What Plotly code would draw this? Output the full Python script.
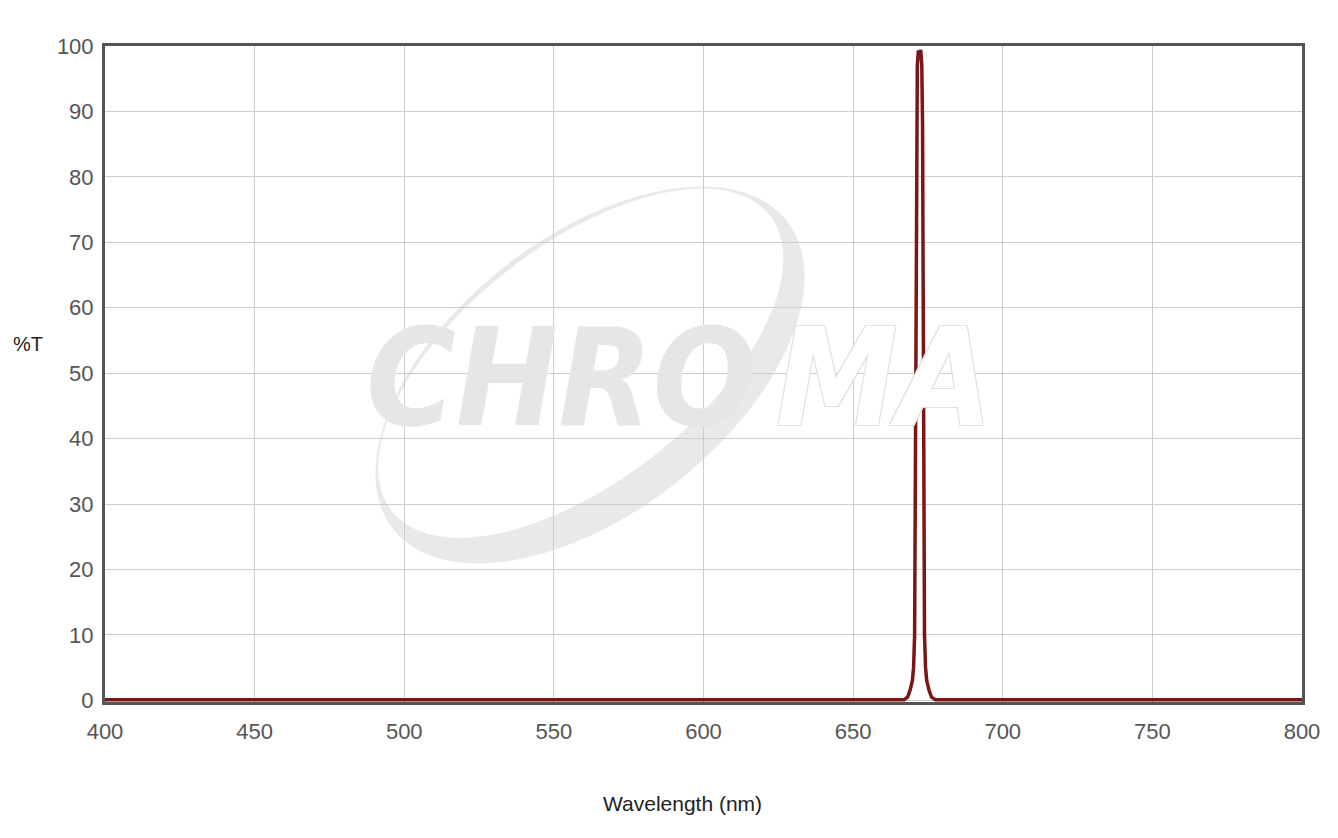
import numpy as np
import plotly.graph_objects as go

# ---- data ----
wavelength_nm = [400, 500, 600, 660, 667.0, 668.2, 669.0, 669.8, 670.2, 670.55, 670.75, 670.9,
                 671.05, 671.2, 671.45, 671.8, 672.2, 672.6, 672.95, 673.2, 673.35, 673.5,
                 673.65, 673.85, 674.2, 674.6, 675.4, 676.2, 677.5, 690, 750, 800]
transmission_pct = [0.1, 0.1, 0.1, 0.1, 0.1, 0.5, 1.5, 3.0, 5.0, 10.0, 30.0, 50.0,
                    70.0, 88.0, 97.0, 99.3, 98.8, 99.4, 97.0, 88.0, 70.0, 50.0,
                    30.0, 10.0, 5.0, 3.0, 1.5, 0.5, 0.1, 0.1, 0.1, 0.1]
x_ticks = [400, 450, 500, 550, 600, 650, 700, 750, 800]
y_ticks = [0, 10, 20, 30, 40, 50, 60, 70, 80, 90, 100]

W, H = 1338, 838
OFF = 8  # page offset of the figure in the browser
L, T = 97, 38
PW, PH = 1197, 656
R, B = W - L - PW, H - T - PH

def to_paper(px, py):
    # px, py: target screen pixel coordinates
    px, py = px - OFF, py - OFF
    return (px - L) / PW, (T + PH - py) / PH

def ellipse_path(cx, cy, a, b, ang_deg, reverse=False, n=120):
    t = np.linspace(0, 2 * np.pi, n, endpoint=False)
    if reverse:
        t = t[::-1]
    ang = np.deg2rad(ang_deg)
    u, v = a * np.cos(t), b * np.sin(t)
    px = cx + u * np.cos(ang) - v * np.sin(ang)
    py = cy + u * np.sin(ang) + v * np.cos(ang)
    pts = [to_paper(x, y) for x, y in zip(px, py)]
    return "M %.5f,%.5f " % pts[0] + " ".join("L %.5f,%.5f" % p for p in pts[1:]) + " Z"

# watermark swoosh (outer minus inner ellipse)
ang = -38
cx, cy = 590, 375
vx, vy = -np.sin(np.deg2rad(ang)), np.cos(np.deg2rad(ang))
outer = ellipse_path(cx, cy, 250, 138, ang)
inner = ellipse_path(cx - 15 * vx, cy - 15 * vy, 240, 118, ang, reverse=True)

fig = go.Figure()
fig.add_trace(go.Scatter(
    x=wavelength_nm, y=transmission_pct, mode="lines",
    line=dict(color="#7b1616", width=3.5), hoverinfo="skip", showlegend=False,
))

fig.add_shape(type="path", path=outer + " " + inner, xref="paper", yref="paper",
              fillcolor="#e9e9e9", line=dict(width=0), layer="below")

wm_family = "Liberation Sans Narrow, DejaVu Sans Condensed, Liberation Sans"
xc, yc = to_paper(758, 378)
fig.add_annotation(x=xc, y=yc, xref="paper", yref="paper", text="CHRO",
                   showarrow=False, xanchor="right", yanchor="middle",
                   font=dict(family=wm_family, size=136, color="#e6e6e6",
                             weight="bold", style="italic"))
xm, ym = to_paper(774, 378)
fig.add_annotation(x=xm, y=ym, xref="paper", yref="paper", text="MA",
                   showarrow=False, xanchor="left", yanchor="middle",
                   font=dict(family=wm_family, size=136, color="#ffffff",
                             weight="bold", style="italic",
                             shadow="1px 1px 0 #e0e0e0, -1px -1px 0 #e0e0e0, 1px -1px 0 #e0e0e0, -1px 1px 0 #e0e0e0"))

# axis titles
tx, ty = to_paper(28, 344)
fig.add_annotation(x=tx, y=ty, xref="paper", yref="paper", text="%T",
                   showarrow=False, xanchor="center", yanchor="middle",
                   font=dict(family="Liberation Sans", size=20, color="#222222"))
wx, wy = to_paper(682, 803)
fig.add_annotation(x=wx, y=wy, xref="paper", yref="paper", text="Wavelength (nm)",
                   showarrow=False, xanchor="center", yanchor="middle",
                   font=dict(family="Liberation Sans", size=21, color="#222222"))

axis_common = dict(
    showgrid=True, gridcolor="#cccccc", gridwidth=1,
    showline=True, linecolor="#555555", linewidth=3, mirror=True,
    zeroline=False, ticks="", layer="below traces",
    tickfont=dict(family="Liberation Sans", size=22, color="#555555"),
)
fig.update_xaxes(range=[400, 800], tickvals=x_ticks, ticktext=[str(v) for v in x_ticks],
                 ticklabelstandoff=8, **axis_common)
fig.update_yaxes(range=[-0.25, 100], tickvals=y_ticks, ticktext=[str(v) for v in y_ticks],
                 ticklabelstandoff=4, **axis_common)

fig.update_layout(
    width=W, height=H, margin=dict(l=L, r=R, t=T, b=B, pad=0),
    paper_bgcolor="white", plot_bgcolor="white",
    font=dict(family="Liberation Sans"),
)

fig.write_html("out.html")
